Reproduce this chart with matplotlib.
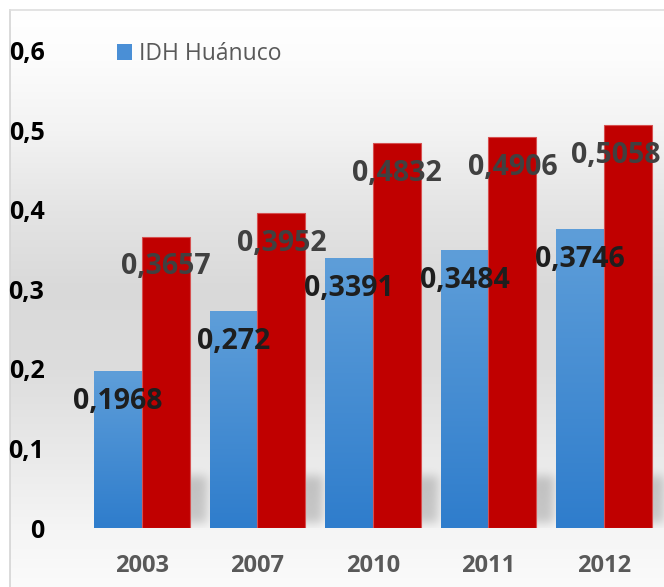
import numpy as np
import matplotlib.pyplot as plt
from matplotlib.patches import Patch
from matplotlib.lines import Line2D
from matplotlib.colors import to_rgb

# datos
years = ['2003', '2007', '2010', '2011', '2012']
idh_huanuco = [0.1968, 0.272, 0.3391, 0.3484, 0.3746]
idh_peru = [0.3657, 0.3952, 0.4832, 0.4906, 0.5058]
y_ticks = [0, 0.1, 0.2, 0.3, 0.4, 0.5, 0.6]
y_tick_labels = ['0', '0,1', '0,2', '0,3', '0,4', '0,5', '0,6']

W, H = 664, 587
FONT = ['Open Sans', 'DejaVu Sans']
plt.rcParams['font.family'] = FONT

fig = plt.figure(figsize=(W / 100, H / 100), dpi=100)
bg = fig.add_axes([0, 0, 1, 1], zorder=0)
ax = fig.add_axes([75 / W, (H - 528) / H, (W - 75) / W, (528 - 12) / H], zorder=1)
ax.patch.set_alpha(0)

x = np.arange(len(years))
w = 0.415

# barras azules con degradado
top_c = np.array(to_rgb('#5e9ed9'))
bot_c = np.array(to_rgb('#2f7dcc'))
grad = np.linspace(0, 1, 64)[:, None, None] * (bot_c - top_c) + top_c
for xi, v in zip(x, idh_huanuco):
    ax.imshow(grad, extent=[xi - w, xi, 0, v], aspect='auto', zorder=2,
              interpolation='bicubic')
ax.bar(x + w / 2, idh_peru, w, color='#c00000', edgecolor='#d65050',
       linewidth=0.8, zorder=2)
ax.set_xlim(-0.58, 4.52)
ax.set_ylim(0, 516 / 796)

# etiquetas
labels = []
for xi, v in zip(x, idh_huanuco):
    labels.append(ax.annotate(str(v).replace('.', ','), (xi - w / 2, v),
                              xytext=(0, -30), textcoords='offset pixels',
                              ha='center', va='center', fontsize=20.5,
                              fontweight='bold', color='#1e1e1e', zorder=4))
for xi, v in zip(x, idh_peru):
    labels.append(ax.annotate(str(v).replace('.', ','), (xi + w / 2, v),
                              xytext=(0, -30), textcoords='offset pixels',
                              ha='center', va='center', fontsize=20.5,
                              fontweight='bold', color='#404040', zorder=4))

ax.set_xticks(x)
ax.set_xticklabels(years, fontsize=17, fontweight='bold', color='#595959')
ax.set_yticks(y_ticks)
ax.set_yticklabels(y_tick_labels, fontsize=18, fontweight='bold', color='black')
ax.tick_params(axis='x', length=0, pad=19)
ax.tick_params(axis='y', length=0, pad=22)
for s in ax.spines.values():
    s.set_visible(False)

ax.legend(handles=[Patch(facecolor='#4a8fd6', label='IDH Huánuco')],
          loc='center left', bbox_to_anchor=(117 / W, (H - 54) / H),
          bbox_transform=fig.transFigure, frameon=False,
          prop={'family': FONT, 'size': 16.5}, labelcolor='#595959',
          handlelength=0.65, handleheight=0.65, handletextpad=0.3,
          borderaxespad=0, borderpad=0)

# como en Excel: las etiquetas no salen del área del gráfico
fig.canvas.draw()
renderer = fig.canvas.get_renderer()
for t in labels:
    bb = t.get_window_extent(renderer)
    if bb.x1 > W - 4:
        dx = bb.x1 - (W - 4)
        t.xyann = (t.xyann[0] - dx, t.xyann[1])

# fondo: degradado vertical + sombras
rows = np.arange(H)
stops_y = [10, 60, 130, 210, 290, 370, 450, 530, 587]
stops_v = [255, 252, 243, 228, 217, 221, 233, 245, 251]
col = np.interp(rows, stops_y, stops_v)
img = np.repeat(col[:, None], W, axis=1).astype(float)

shadow = np.zeros((H, W))
base_row = int(round(H - ax.transData.transform((0, 0))[1]))
top_row = int(round(H - ax.transData.transform((0, 0.065))[1]))
for xi in x:
    xr = ax.transData.transform((xi + w, 0))[0]
    shadow[top_row:base_row - 5, int(xr) - 6:min(W, int(xr) + 18)] = 1.0


def blur(a, sigma):
    k = np.exp(-0.5 * (np.arange(-3 * sigma, 3 * sigma + 1) / sigma) ** 2)
    k /= k.sum()
    a = np.apply_along_axis(lambda r: np.convolve(r, k, mode='same'), 1, a)
    return np.apply_along_axis(lambda c: np.convolve(c, k, mode='same'), 0, a)


shadow = blur(shadow, 5)
shadow[base_row:, :] = 0
img = img - 45 * shadow
img[:10, :] = 255
img[:, :10] = 255
rgb = np.clip(np.dstack([img, img, img]) / 255.0, 0, 1)
bg.imshow(rgb, extent=[0, W, H, 0], aspect='auto', interpolation='nearest')
bg.set_xlim(0, W)
bg.set_ylim(H, 0)
bg.axis('off')
bg.add_line(Line2D([10, 10], [10, H], color='#d4d4d4', lw=1.2))
bg.add_line(Line2D([10, W], [10, 10], color='#dedede', lw=1.2))

fig.savefig('out.png', dpi=100)
